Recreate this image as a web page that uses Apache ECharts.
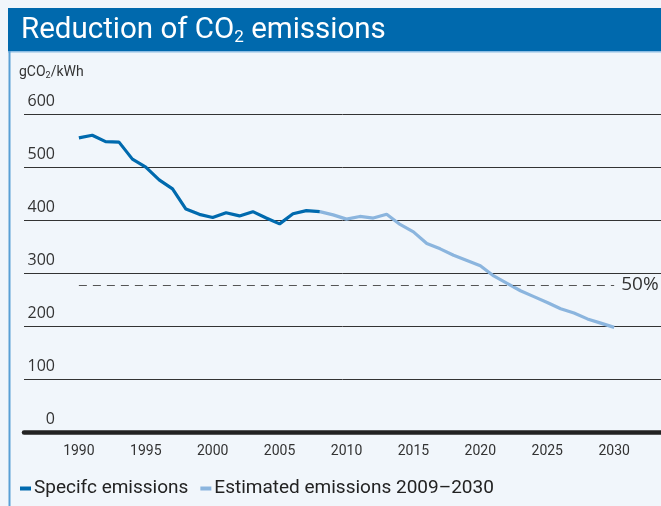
<!DOCTYPE html>
<html>
<head>
<meta charset="utf-8">
<script src="https://cdn.jsdelivr.net/npm/echarts@6/dist/echarts.min.js"></script>
<style>
html,body{margin:0;padding:0;background:#f1f6fb;}
#c{width:661px;height:506px;}
</style>
</head>
<body>
<div id="c"></div>
<script>
const specificYears = [1990,1991,1992,1993,1994,1995,1996,1997,1998,1999,2000,2001,2002,2003,2004,2005,2006,2007,2008];
const specificValues = [555,560,548,547,515,500,476,459,421,411,405,414,408,416,404,393,412,418,416];
const estimatedYears = [2008,2009,2010,2011,2012,2013,2014,2015,2016,2017,2018,2019,2020,2021,2022,2023,2024,2025,2026,2027,2028,2029,2030];
const estimatedValues = [416,410,402,407,404,411,392,378,356,346,334,324,314,295,281,267,256,245,233,225,214,206,198];
const xTickLabels = [1990,1995,2000,2005,2010,2015,2020,2025,2030];
const yTicks = [0,100,200,300,400,500,600];
const halfLevel = 278;
const seriesNames = ['Specifc emissions','Estimated emissions 2009\u20132030'];

const chart = echarts.init(document.getElementById('c'));
const font = 'Roboto, "Open Sans", sans-serif';
chart.setOption({
  backgroundColor: '#f1f6fb',
  animation: false,
  graphic: [
    {type:'rect', shape:{x:8,y:8,width:653,height:43}, style:{fill:'#0069ad'}},
    {type:'rect', shape:{x:8,y:51,width:653,height:1.5}, style:{fill:'#8dbde3'}},
    {type:'rect', shape:{x:8.5,y:51,width:2,height:455}, style:{fill:'#5aa0d5'}}
  ],
  title: [
    {
      text: '{a|Reduction of CO}{s|2}{a| emissions}',
      left: 16, top: 9,
      padding: 5,
      textStyle: {
        rich: {
          a: {fontFamily: font, fontSize: 29.5, fontWeight: 'normal', color: '#ffffff', lineHeight: 34},
          s: {fontFamily: font, fontSize: 17, fontWeight: 'normal', color: '#ffffff', padding:[14,0,0,0], lineHeight: 34}
        }
      }
    },
    {
      text: '{a|gCO}{s|2}{a|/kWh}',
      left: 14, top: 58,
      padding: 5,
      textStyle: {
        rich: {
          a: {fontFamily: font, fontSize: 14, fontWeight: 'normal', color: '#333', lineHeight: 18},
          s: {fontFamily: font, fontSize: 9, fontWeight: 'normal', color: '#333', padding:[7,0,0,0], lineHeight: 18}
        }
      }
    }
  ],
  legend: {
    left: 15, top: 474,
    icon: 'rect', itemWidth: 11, itemHeight: 4, itemGap: 12,
    textStyle: {fontFamily: font, fontSize: 19, color: '#222', padding:[0,0,0,-2]},
    data: seriesNames
  },
  grid: {left: 24, right: 0, top: 114, bottom: 73.5},
  xAxis: {
    type: 'value', min: 1985.9, max: 2033.5,
    axisLine: {show: true, onZero: true, lineStyle: {color: '#222', width: 4.5}},
    axisTick: {show: false},
    splitLine: {show: false},
    axisLabel: {customValues: xTickLabels, fontFamily: font, fontSize: 14, color: '#333', margin: 12, formatter: v => String(v)}
  },
  yAxis: {
    type: 'value', min: yTicks[0], max: yTicks[yTicks.length-1], interval: 100,
    axisLine: {show: false}, axisTick: {show: false},
    splitLine: {lineStyle: {color: '#333', width: 1}},
    axisLabel: {inside: true, align: 'right', margin: 31, verticalAlign: 'bottom', lineHeight: 16, padding: [0,0,5,0],
      fontFamily: '"Open Sans", sans-serif', fontSize: 16, color: '#333',
      formatter: v => String(v)}
  },
  series: [
    {
      name: seriesNames[0], type: 'line', showSymbol: false, symbol: 'none',
      color: '#006aae',
      lineStyle: {width: 3.2, color: '#006aae'},
      data: specificYears.map((y,i)=>[y, specificValues[i]]),
      z: 3
    },
    {
      name: seriesNames[1], type: 'line', showSymbol: false, symbol: 'none',
      color: '#8bb5de',
      lineStyle: {width: 3.2, color: '#8bb5de'},
      data: estimatedYears.map((y,i)=>[y, estimatedValues[i]]),
      z: 2,
      markLine: {
        silent: true, symbol: 'none',
        lineStyle: {type: [8,6], color: '#555', width: 1},
        label: {show: true, position: 'end', formatter: '50%', fontFamily: '"Open Sans", sans-serif', fontSize: 19, color: '#333', distance: 7},
        data: [[{coord: [xTickLabels[0], halfLevel]}, {coord: [xTickLabels[xTickLabels.length-1], halfLevel]}]]
      }
    }
  ]
});
</script>
</body>
</html>
